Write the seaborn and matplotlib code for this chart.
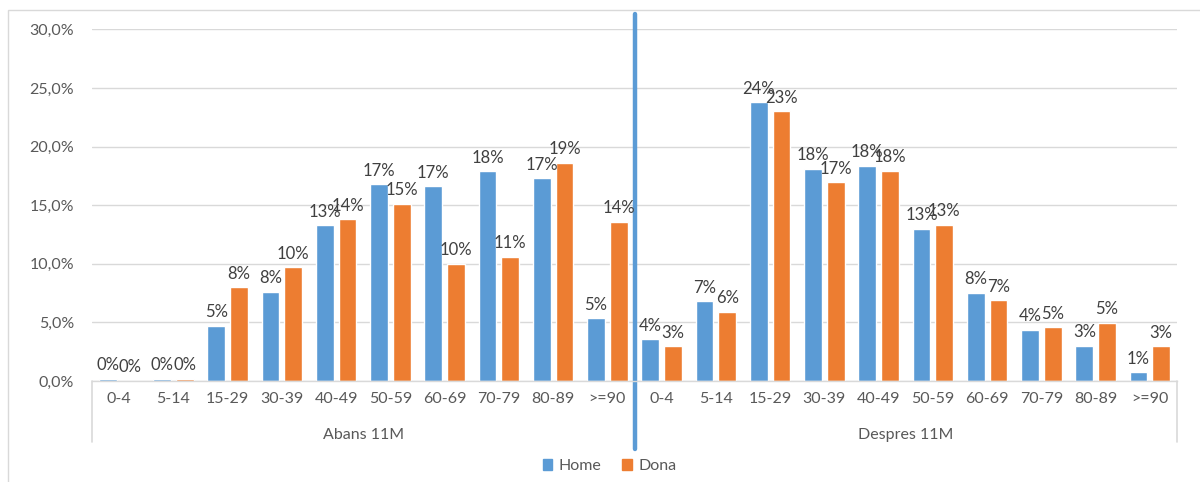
import numpy as np
import pandas as pd
import matplotlib
matplotlib.use('Agg')
import matplotlib.pyplot as plt
import matplotlib.transforms as mtransforms
from matplotlib.patches import Rectangle
from matplotlib.ticker import FuncFormatter
import seaborn as sns

# data (percent)
GROUPS = ['Abans 11M', 'Despres 11M']
AGES = ['0-4', '5-14', '15-29', '30-39', '40-49', '50-59', '60-69', '70-79', '80-89', '>=90']
home_abans = [0.2, 0.2, 4.7, 7.6, 13.3, 16.8, 16.6, 17.9, 17.3, 5.35]
dona_abans = [0.0, 0.2, 8.0, 9.7, 13.8, 15.1, 10.0, 10.6, 18.6, 13.6]
home_despres = [3.55, 6.8, 23.8, 18.1, 18.35, 13.0, 7.55, 4.35, 3.0, 0.75]
dona_despres = [2.95, 5.9, 23.0, 16.95, 17.95, 13.35, 6.9, 4.6, 4.95, 2.95]
SEXES = ['Home', 'Dona']
COLORS = {'Home': '#5B9BD5', 'Dona': '#ED7D31'}

rows = []
for g, h_vals, d_vals in [(GROUPS[0], home_abans, dona_abans), (GROUPS[1], home_despres, dona_despres)]:
    for age, h, d in zip(AGES, h_vals, d_vals):
        rows.append({'grup': g, 'edat': age, 'key': g + ' ' + age, 'sexe': 'Home', 'valor': h})
        rows.append({'grup': g, 'edat': age, 'key': g + ' ' + age, 'sexe': 'Dona', 'valor': d})
df = pd.DataFrame(rows)
order = [g + ' ' + a for g in GROUPS for a in AGES]

sns.set_style('white')
plt.rcParams['font.family'] = ['Lato', 'DejaVu Sans']

fig = plt.figure(figsize=(12, 4.82), dpi=100)
ax = fig.add_axes([92 / 1200, 1 - 381 / 482, 1085 / 1200, 351.6 / 482])

sns.barplot(data=df, x='key', y='valor', hue='sexe', order=order, hue_order=SEXES,
            palette=COLORS, width=0.836, gap=0.22, saturation=1, ax=ax, legend=False)

for cont in ax.containers:
    ax.bar_label(cont, labels=[f'{b.get_height():.0f}%' for b in cont],
                 padding=4, fontsize=12, color='#404040')

ax.set_xlim(-0.5, 19.5)
ax.set_ylim(0, 30)
ax.set_yticks(np.arange(0, 31, 5))
ax.yaxis.set_major_formatter(FuncFormatter(lambda v, p: f'{v:.1f}%'.replace('.', ',')))
ax.grid(axis='y', color='#D9D9D9', lw=1)
ax.set_axisbelow(True)
for s in ['top', 'right', 'left']:
    ax.spines[s].set_visible(False)
ax.spines['bottom'].set_color('#D9D9D9')
ax.spines['bottom'].set_linewidth(1)

ax.set_xticks(range(len(order)))
ax.set_xticklabels(AGES + AGES)
ax.tick_params(axis='x', length=0, pad=8, labelsize=11.5, labelcolor='#595959')
ax.tick_params(axis='y', length=0, pad=13, labelsize=11.5, labelcolor='#595959')
ax.set_xlabel('')
ax.set_ylabel('')

trans = mtransforms.blended_transform_factory(ax.transData, ax.transAxes)
for gi, g in enumerate(GROUPS):
    ax.text(gi * 10 + 4.5, -0.154, g, transform=trans, ha='center', va='center',
            fontsize=11.5, color='#595959')

# group separators below the axis
for xv in [-0.5, 19.5]:
    ax.axvline(xv, ymin=-0.174, ymax=0, clip_on=False, color='#D9D9D9', lw=1.2)
# blue divider between periods
ax.axvline(9.5, ymin=-0.193, ymax=1.044, clip_on=False, color='#5B9BD5', lw=3.2)

handles = [Rectangle((0, 0), 1, 1, color=COLORS[s]) for s in SEXES]
fig.legend(handles, SEXES, loc='center', bbox_to_anchor=(0.508, 0.033), ncol=2,
           frameon=False, fontsize=11.5, labelcolor='#595959', handlelength=0.6,
           handleheight=0.6, handletextpad=0.4, columnspacing=1.3)

# outer chart border (cropped at right and bottom)
fig.patches.append(Rectangle((8 / 1200, -0.1), 1.2, 1 - 10 / 482 + 0.1, transform=fig.transFigure,
                             fill=False, edgecolor='#D9D9D9', lw=1))

fig.savefig('out.png', dpi=100)
